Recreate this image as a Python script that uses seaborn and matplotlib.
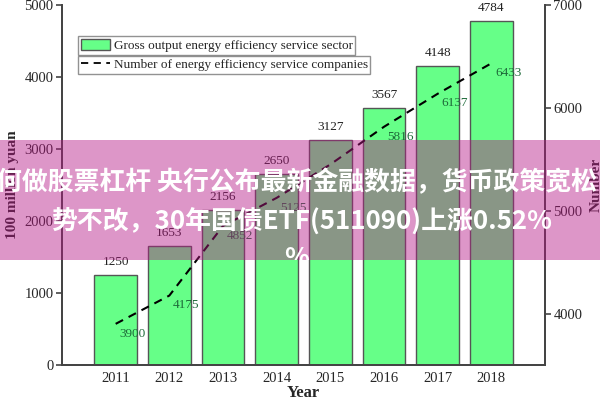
import matplotlib
matplotlib.use("Agg")
import matplotlib.pyplot as plt
from matplotlib.patches import Rectangle, Patch
from matplotlib.lines import Line2D
import seaborn as sns
import pandas as pd
import numpy as np

years = ["2011", "2012", "2013", "2014", "2015", "2016", "2017", "2018"]
gross_output = [1250, 1653, 2156, 2650, 3127, 3567, 4148, 4784]
companies = [3900, 4175, 4852, 5125, 5450, 5816, 6137, 6433]
company_labels = ["3900", "4175", "4852", "5125", "", "5816", "6137", "6433"]
left_ticks = [0, 1000, 2000, 3000, 4000, 5000]
right_ticks = [4000, 5000, 6000, 7000]
bar_name = "Gross output energy efficiency service sector"
line_name = "Number of energy efficiency service companies"
banner_lines = ["何做股票杠杆 央行公布最新金融数据，货币政策宽松",
                "势不改，30年国债ETF(511090)上涨0.52%",
                "%"]

sns.set_theme(style="white")
plt.rcParams["font.family"] = ["Liberation Serif", "DejaVu Serif"]

df = pd.DataFrame({"year": years, "gross": gross_output, "num": companies,
                   "pos": np.arange(len(years))})

fig = plt.figure(figsize=(6, 4), dpi=100)
ax = fig.add_axes([62/600, 35/400, 483/600, 360/400])

sns.barplot(data=df, x="year", y="gross", color="#66ff88", saturation=1,
            edgecolor="#555555", linewidth=1.0, width=0.8, ax=ax)
ax.set_xlim(-1, 8)
ax.set_ylim(0, 5000)
ax.set_yticks(left_ticks)
ax.set_xlabel("Year", fontsize=12, fontweight="bold", labelpad=0)
ax.set_ylabel("100 million yuan", fontsize=11, fontweight="bold", labelpad=4)
for i, v in enumerate(gross_output):
    ax.annotate(str(v), (i, v), xytext=(0, 5), textcoords="offset points",
                ha="center", va="bottom", fontsize=9.5, color="#222222")

ax2 = ax.twinx()
sns.lineplot(data=df, x="pos", y="num", ax=ax2, color="black", lw=1.5,
             linestyle=(0, (4, 3)))
ax2.set_ylim(3500, 7000)
ax2.set_yticks(right_ticks)
ax2.set_xlim(-1, 8)
ax2.set_ylabel("Number", fontsize=11, fontweight="bold", labelpad=5)
for i, (v, lab) in enumerate(zip(companies, company_labels)):
    if lab:
        ax2.annotate(lab, (i, v), xytext=(12, -7), textcoords="offset points",
                     ha="center", va="center", fontsize=9.5, color="#1e6b3a")

for a in (ax, ax2):
    a.spines["top"].set_visible(False)
    for s in ("left", "right", "bottom"):
        a.spines[s].set_color("#444444")
        a.spines[s].set_linewidth(1.3)
ax.tick_params(axis="y", direction="out", length=4, width=1.2, color="#444444",
               labelsize=10.5, left=True, pad=2)
ax.tick_params(axis="x", direction="in", length=3, width=1.0, color="#444444",
               labelsize=10.5, bottom=True, pad=5)
ax2.tick_params(axis="y", direction="out", length=4, width=1.2, color="#444444",
                labelsize=10.5, right=True, pad=2)
ax2.set_xlabel("")

leg1 = fig.legend(handles=[Patch(facecolor="#66ff88", edgecolor="#555555", lw=1.0)],
                  labels=[bar_name], loc="upper left",
                  bbox_to_anchor=(78/600, 1 - 36/400), fontsize=9.5, frameon=True,
                  fancybox=False, edgecolor="#777777", borderpad=0.2,
                  handlelength=2.2, handleheight=1.0, handletextpad=0.3,
                  borderaxespad=0)
leg1.get_frame().set_linewidth(1.0)
leg2 = fig.legend(handles=[Line2D([0], [0], color="black", lw=1.3, linestyle=(0, (4, 3)))],
                  labels=[line_name], loc="upper left",
                  bbox_to_anchor=(78/600, 1 - 56/400), fontsize=9.5, frameon=True,
                  fancybox=False, edgecolor="#777777", borderpad=0.2,
                  handlelength=2.2, handletextpad=0.3, borderaxespad=0)
leg2.get_frame().set_linewidth(1.0)

banner = Rectangle((0, 1 - 260/400), 1, 120/400, transform=fig.transFigure,
                   facecolor=(0.71, 0.09, 0.52), alpha=0.45, edgecolor="none",
                   zorder=20)
fig.patches.append(banner)
ys = [183, 222, 259]
xs = [0.495, 0.502, 0.495]
for t, y, x in zip(banner_lines, ys, xs):
    txt = fig.text(x, 1 - y/400, t, ha="center", va="center", color="white",
                   fontsize=18.6, fontweight="bold",
                   family=["Noto Sans CJK SC", "DejaVu Sans"], zorder=21)
    txt.set_clip_path(banner)

fig.savefig("out.png", dpi=100)
